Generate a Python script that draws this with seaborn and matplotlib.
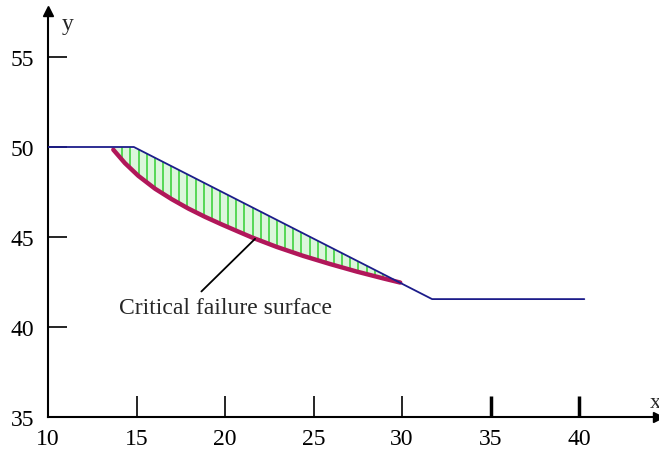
import numpy as np
import pandas as pd
import matplotlib
matplotlib.use('Agg')
import matplotlib.pyplot as plt
import seaborn as sns

# ground profile (crest - slope - toe)
ground_x = [10, 14.85, 31.7, 40.3]
ground_y = [50, 50, 41.55, 41.55]

# critical failure surface
slip_x = [13.69, 14.35, 15.10, 16.05, 16.99, 17.93, 18.87, 19.81, 20.75, 21.51,
          22.92, 24.42, 25.93, 27.44, 28.94, 29.9]
slip_y = [49.85, 49.10, 48.40, 47.68, 47.10, 46.58, 46.12, 45.70, 45.30, 44.98,
          44.45, 43.95, 43.50, 43.08, 42.70, 42.47]

x_ticks = [10, 15, 20, 25, 30, 35, 40]
y_ticks = [35, 40, 45, 50, 55]
label_text = 'Critical failure surface'

sns.set_style('white')
plt.rcParams['font.family'] = ['Liberation Serif', 'DejaVu Serif']

fig = plt.figure(figsize=(6.59, 4.52), dpi=100)
W, H = 659, 452
ax = fig.add_axes([48 / W, 34 / H, 610 / W, 406 / H])
ax.set_xlim(10, 10 + 610 / 17.7)
ax.set_ylim(35, 35 + 406 / 18)

# hatched sliding mass
hx = np.arange(14.2, 29.85, 0.46)
top = np.interp(hx, ground_x, ground_y)
bot = np.interp(hx, slip_x, slip_y)
ax.fill_between(slip_x, slip_y, np.interp(slip_x, ground_x, ground_y),
                color='#dcf6dc', lw=0, zorder=1)
ax.vlines(hx, bot, top, color='#3fd23f', lw=1.2, zorder=2)

ground = pd.DataFrame({'x': ground_x, 'y': ground_y})
slip = pd.DataFrame({'x': slip_x, 'y': slip_y})
sns.lineplot(data=slip, x='x', y='y', sort=False, color='#b1175a', lw=3.2, ax=ax, zorder=3)
sns.lineplot(data=ground, x='x', y='y', sort=False, color='#1c1c8a', lw=1.3, ax=ax, zorder=4)

ax.annotate(label_text, xy=(21.7, 44.9), xytext=(20.05, 41.1),
            ha='center', va='center', fontsize=17,
            arrowprops=dict(arrowstyle='-', color='black', lw=1.3,
                            relpos=(0.36, 1.0), shrinkA=2, shrinkB=0))

# axes styling
for s in ['top', 'right']:
    ax.spines[s].set_visible(False)
for s in ['left', 'bottom']:
    ax.spines[s].set_color('black')
    ax.spines[s].set_linewidth(1.5)
ax.plot(1, 0, '>', color='black', ms=7, transform=ax.transAxes, clip_on=False)
ax.plot(0, 1, '^', color='black', ms=7, transform=ax.transAxes, clip_on=False)
ax.text(0.995, 0.035, 'x', transform=ax.transAxes, fontsize=16, ha='center', va='center')
ax.text(0.032, 0.968, 'y', transform=ax.transAxes, fontsize=17, ha='center', va='center')

ax.set_xticks(x_ticks)
ax.set_yticks(y_ticks)
ax.tick_params(axis='x', direction='in', length=15, width=1.2, colors='black',
               labelsize=17, pad=8, bottom=True)
ax.tick_params(axis='y', direction='in', length=14, width=1.2, colors='black',
               labelsize=17, pad=10, left=True)
for t in ax.xaxis.get_major_ticks()[5:]:
    t.tick1line.set_markeredgewidth(2.5)
ax.xaxis.get_major_ticks()[0].tick1line.set_visible(False)
ax.yaxis.get_major_ticks()[0].tick1line.set_visible(False)
ax.set_xlabel('')
ax.set_ylabel('')

fig.savefig('out.png', dpi=100)
